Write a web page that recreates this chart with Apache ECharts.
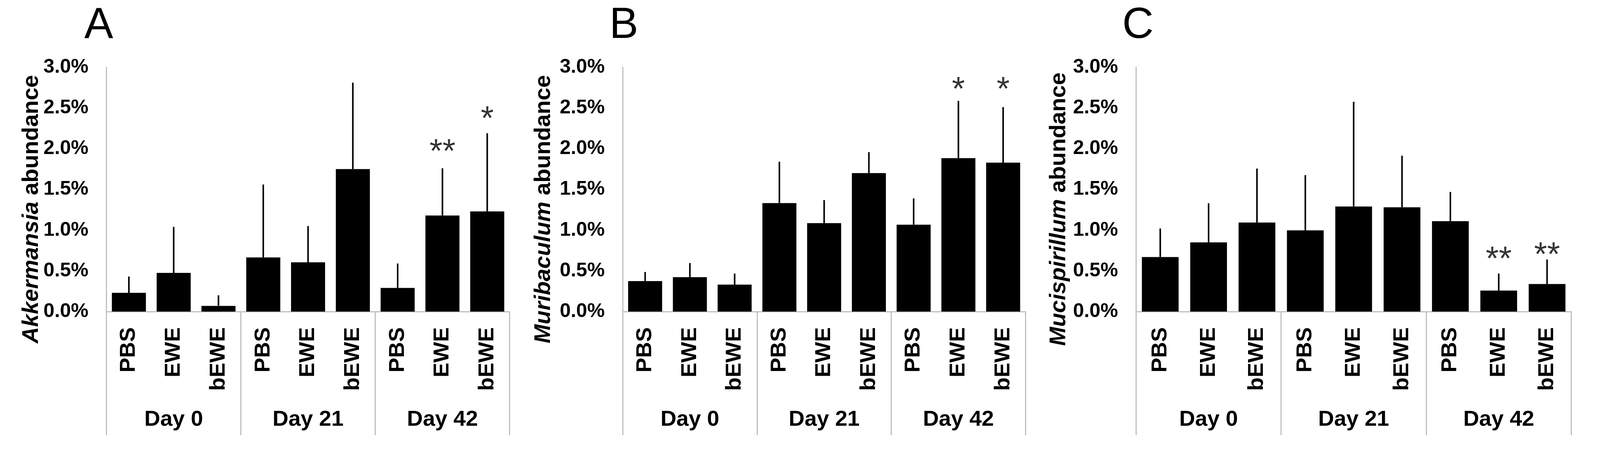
<!DOCTYPE html>
<html>
<head>
<meta charset="utf-8">
<script src="https://cdn.jsdelivr.net/npm/echarts@6/dist/echarts.min.js"></script>
<style>
html,body{margin:0;padding:0;background:#fff;overflow:hidden;}
#c{width:100vw;height:100vh;}
</style>
</head>
<body>
<div id="c"></div>
<script>
// ---- data ----
const groups = ['Day 0', 'Day 21', 'Day 42'];
const treatments = ['PBS', 'EWE', 'bEWE'];
const yTicks = [0, 0.5, 1.0, 1.5, 2.0, 2.5, 3.0];

const panelLetters = ['A', 'B', 'C'];
const genusNames = ['Akkermansia', 'Muribaculum', 'Mucispirillum'];

// mean abundance (%) per bar, order: Day0 PBS/EWE/bEWE, Day21 ..., Day42 ...
const akkMean = [0.23, 0.475, 0.07, 0.665, 0.605, 1.75, 0.29, 1.18, 1.23];
const akkSD   = [0.20, 0.565, 0.13, 0.895, 0.445, 1.06, 0.30, 0.58, 0.96];
const akkSig  = ['', '', '', '', '', '', '', '**', '*'];
const akkSigY = [null, null, null, null, null, null, null, 2.06, 2.46];

const murMean = [0.375, 0.423, 0.331, 1.332, 1.086, 1.70, 1.067, 1.884, 1.829];
const murSD   = [0.111, 0.173, 0.136, 0.508, 0.283, 0.258, 0.323, 0.703, 0.681];
const murSig  = ['', '', '', '', '', '', '', '*', '*'];
const murSigY = [null, null, null, null, null, null, null, 2.82, 2.82];

const mucMean = [0.67, 0.85, 1.093, 0.997, 1.29, 1.28, 1.11, 0.258, 0.339];
const mucSD   = [0.35, 0.48, 0.663, 0.678, 1.286, 0.634, 0.359, 0.209, 0.301];
const mucSig  = ['', '', '', '', '', '', '', '**', '**'];
const mucSigY = [null, null, null, null, null, null, null, 0.74, 0.79];

// ---- layout (designed for 4342x1192, scaled to the real viewport) ----
const W = window.innerWidth || 4342, HV = window.innerHeight || 1192;
const sx = W / 4342, sy = HV / 1192, sf = Math.sqrt(sx * sy);

const panels = [
  {mean: akkMean, sd: akkSD, sig: akkSig, sigY: akkSigY},
  {mean: murMean, sd: murSD, sig: murSig, sigY: murSigY},
  {mean: mucMean, sd: mucSD, sig: mucSig, sigY: mucSigY}
];
const layout = [
  {left: 289, width: 1094, titleX: 86, letterX: 268},
  {left: 1690, width: 1093, titleX: 1476, letterX: 1693},
  {left: 3083, width: 1181, titleX: 2874, letterX: 3088}
];
const TOP = 172, H = 625;
const AXIS = '#c0c0c0';
const SANS = '"Liberation Sans", Arial, sans-serif';

const catData = [];
groups.forEach(g => treatments.forEach(t => catData.push(g + '|' + t)));

const grid = [], xAxis = [], yAxis = [], series = [], graphic = [];

panels.forEach((p, k) => {
  const L = layout[k];
  grid.push({left: L.left * sx, top: TOP * sy, width: L.width * sx, height: H * sy, containLabel: false});
  xAxis.push({
    type: 'category', gridIndex: k, position: 'bottom', data: catData,
    axisLine: {show: true, lineStyle: {color: AXIS, width: 3}},
    axisTick: {show: false},
    axisLabel: {
      interval: 0, rotate: 90, margin: 40 * sy,
      formatter: v => v.split('|')[1],
      fontFamily: SANS, fontWeight: 'bold', fontSize: 58 * sf, color: '#000'
    },
    splitLine: {show: false}
  });
  xAxis.push({
    type: 'category', gridIndex: k, position: 'bottom', data: groups,
    axisLine: {show: false},
    axisTick: {show: true, interval: 0, length: 316 * sy, lineStyle: {color: AXIS, width: 3}},
    axisLabel: {interval: 0, margin: 248 * sy, fontFamily: SANS, fontWeight: 'bold', fontSize: 58 * sf, color: '#000'},
    splitLine: {show: false}
  });
  yAxis.push({
    type: 'value', gridIndex: k, min: yTicks[0], max: yTicks[yTicks.length - 1], interval: 0.5,
    axisLine: {show: true, lineStyle: {color: AXIS, width: 3}},
    axisTick: {show: false},
    splitLine: {show: false},
    axisLabel: {
      margin: 49 * sx, formatter: v => v.toFixed(1) + '%',
      fontFamily: SANS, fontWeight: 'bold', fontSize: 52 * sf, color: '#000'
    }
  });
  series.push({
    type: 'bar', xAxisIndex: 2 * k, yAxisIndex: k,
    data: p.mean, barCategoryGap: '24%',
    itemStyle: {color: '#000'}, silent: true, z: 2
  });
  series.push({
    type: 'custom', xAxisIndex: 2 * k, yAxisIndex: k, z: 3, silent: true,
    data: p.mean.map((m, i) => [i, m, p.sd[i]]),
    encode: {x: 0, y: 1},
    renderItem: (params, api) => {
      const i = api.value(0), m = api.value(1), s = api.value(2);
      const a = api.coord([i, m]);
      const b = api.coord([i, m + s]);
      return {type: 'line', shape: {x1: a[0], y1: a[1], x2: b[0], y2: b[1]},
              style: {stroke: '#000', lineWidth: 4}};
    }
  });
  const sigPts = [];
  p.sig.forEach((s, i) => { if (s) sigPts.push({value: [i, p.sigY[i]], name: s}); });
  series.push({
    type: 'scatter', xAxisIndex: 2 * k, yAxisIndex: k, z: 4, silent: true,
    symbol: 'circle', symbolSize: 1, itemStyle: {color: 'rgba(0,0,0,0)'},
    data: sigPts,
    label: {show: true, position: 'inside', formatter: d => d.name, offset: [0, 24 * sf],
            fontFamily: SANS, fontSize: 88 * sf, color: '#000'}
  });
  graphic.push({
    type: 'text', x: L.letterX * sx, y: 122 * sy, silent: true,
    style: {text: panelLetters[k], font: Math.round(114 * sf) + 'px ' + SANS, fill: '#000',
            textAlign: 'center', textVerticalAlign: 'bottom'}
  });
  graphic.push({
    type: 'text', x: L.titleX * sx, y: 535 * sy, rotation: Math.PI / 2, silent: true,
    style: {
      text: '{i|' + genusNames[k] + '}{n| abundance}',
      textAlign: 'center', textVerticalAlign: 'middle', fill: '#000',
      rich: {
        i: {fontFamily: SANS, fontWeight: 'bold', fontStyle: 'italic', fontSize: 60 * sf, fill: '#000', color: '#000'},
        n: {fontFamily: SANS, fontWeight: 'bold', fontSize: 60 * sf, fill: '#000', color: '#000'}
      }
    }
  });
});

const chart = echarts.init(document.getElementById('c'), null, {renderer: 'canvas', devicePixelRatio: 1});
chart.setOption({
  animation: false,
  backgroundColor: '#fff',
  grid, xAxis, yAxis, series, graphic
});
</script>
</body>
</html>
